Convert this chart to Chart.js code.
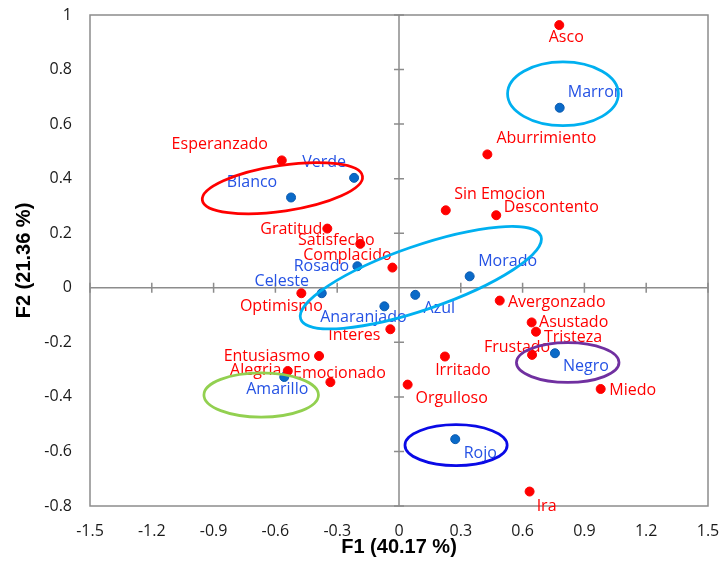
<!DOCTYPE html>
<html>
<head>
<meta charset="utf-8">
<script src="https://cdn.jsdelivr.net/npm/chart.js@4/dist/chart.umd.min.js"></script>
<style>
  html, body { margin: 0; padding: 0; background: #ffffff; }
  #wrap { width: 722px; height: 561px; }
</style>
</head>
<body>
<div id="wrap"><canvas id="c" width="722" height="561"></canvas></div>
<script>
// Emotions (red) and colours (blue) on the first two factor axes
const emotions = ['Asco','Aburrimiento','Sin Emocion','Descontento','Esperanzado','Gratitud','Satisfecho','Complacido','Optimismo','Interes','Entusiasmo','Alegria','Emocionado','Avergonzado','Asustado','Tristeza','Frustado','Irritado','Orgulloso','Miedo','Ira'];
const emotionF1 = [0.778, 0.429, 0.227, 0.472, -0.569, -0.348, -0.188, -0.032, -0.474, -0.042, -0.388, -0.540, -0.333, 0.489, 0.644, 0.665, 0.646, 0.223, 0.042, 0.979, 0.634];
const emotionF2 = [0.963, 0.489, 0.284, 0.266, 0.467, 0.217, 0.161, 0.074, -0.020, -0.152, -0.250, -0.305, -0.346, -0.047, -0.127, -0.161, -0.246, -0.252, -0.355, -0.371, -0.747];

const colours = ['Marron','Verde','Blanco','Rosado','Celeste','Anaranjado','Azul','Morado','Amarillo','Negro','Rojo'];
const colourF1 = [0.780, -0.218, -0.524, -0.202, -0.375, -0.071, 0.079, 0.343, -0.557, 0.757, 0.273];
const colourF2 = [0.660, 0.403, 0.331, 0.079, -0.020, -0.068, -0.026, 0.042, -0.327, -0.240, -0.555];

const xTicks = [-1.5, -1.2, -0.9, -0.6, -0.3, 0, 0.3, 0.6, 0.9, 1.2, 1.5];
const yTicks = [-0.8, -0.6, -0.4, -0.2, 0, 0.2, 0.4, 0.6, 0.8, 1];
const xTitle = 'F1 (40.17 %)';
const yTitle = 'F2 (21.36 %)';

// Label placement around each point (pixel offset of the text centre)
const emotionLabelOffset = [[7,11],[59,-17],[54,-17],[55,-9],[-62,-17],[-36,-1],[-24,-5],[-45,-14],[-20,12],[-36,5],[-52,-1],[-32,-2],[9,-10],[57,0],[42,-1],[37,4],[-15,-9],[18,12],[44,12],[32,0],[17,13]];
const colourLabelOffset = [[36,-17],[-30,-17],[-39,-16],[-36,-1],[-40,-13],[-21,10],[24,12],[38,-16],[-7,11],[31,12],[25,13]];

// Group outlines: centre (F1, F2), half-axes in F1 / F2 units, tilt in degrees
const groupCx = [-0.566, 0.106, 0.796, 0.819, 0.277, -0.669];
const groupCy = [0.365, 0.037, 0.711, -0.274, -0.577, -0.393];
const groupRx = [0.393, 0.617, 0.269, 0.249, 0.248, 0.278];
const groupRy = [0.084, 0.117, 0.117, 0.073, 0.075, 0.081];
const groupTilt = [-8.5, -19, 0, 0, 0, 0];
const groupColour = ['#FF0000', '#00B0F0', '#00B0F0', '#7030A0', '#0A0AE6', '#92D050'];

const RED = '#FF0000';
const BLUE_PT = '#0A6AC8';
const BLUE_TXT = '#2552E4';
const AXIS_GREY = '#8C8C8C';
const LABEL_FONT = '16px "Open Sans"';

const fmt = v => String(Number(Number(v).toFixed(2)));

const frame = {
  id: 'frame',
  beforeDatasetsDraw(chart) {
    const { ctx, chartArea: a, scales: { x, y } } = chart;
    ctx.save();
    ctx.strokeStyle = AXIS_GREY;
    ctx.lineWidth = 1.5;
    ctx.strokeRect(a.left, a.top, a.right - a.left, a.bottom - a.top);
    const x0 = x.getPixelForValue(0), y0 = y.getPixelForValue(0);
    ctx.beginPath();
    ctx.moveTo(a.left, y0); ctx.lineTo(a.right, y0);
    ctx.moveTo(x0, a.top); ctx.lineTo(x0, a.bottom);
    xTicks.forEach(v => { const p = x.getPixelForValue(v); ctx.moveTo(p, y0 - 5); ctx.lineTo(p, y0 + 5); });
    yTicks.forEach(v => { const p = y.getPixelForValue(v); ctx.moveTo(x0 - 5, p); ctx.lineTo(x0 + 5, p); });
    ctx.stroke();
    ctx.restore();
  }
};

const labelsAndGroups = {
  id: 'labelsAndGroups',
  afterDatasetsDraw(chart) {
    const { ctx, scales: { x, y } } = chart;
    ctx.save();
    ctx.font = LABEL_FONT;
    ctx.textAlign = 'center';
    ctx.textBaseline = 'alphabetic';
    const put = (names, fx, fy, offs, colour) => {
      ctx.fillStyle = colour;
      names.forEach((n, i) => {
        const px = x.getPixelForValue(fx[i]) + offs[i][0];
        const py = y.getPixelForValue(fy[i]) + offs[i][1] + 6;
        ctx.fillText(n, px, py);
      });
    };
    put(emotions, emotionF1, emotionF2, emotionLabelOffset, RED);
    put(colours, colourF1, colourF2, colourLabelOffset, BLUE_TXT);

    ctx.lineWidth = 2.75;
    groupCx.forEach((cx, i) => {
      const px = x.getPixelForValue(cx), py = y.getPixelForValue(groupCy[i]);
      const rx = Math.abs(x.getPixelForValue(cx + groupRx[i]) - px);
      const ry = Math.abs(y.getPixelForValue(groupCy[i] + groupRy[i]) - py);
      ctx.strokeStyle = groupColour[i];
      ctx.beginPath();
      ctx.ellipse(px, py, rx, ry, groupTilt[i] * Math.PI / 180, 0, Math.PI * 2);
      ctx.stroke();
    });
    ctx.restore();
  }
};

new Chart(document.getElementById('c'), {
  type: 'scatter',
  data: {
    datasets: [
      {
        label: 'Emociones',
        data: emotionF1.map((v, i) => ({ x: v, y: emotionF2[i] })),
        backgroundColor: RED, borderColor: RED,
        pointRadius: 4.5, pointBorderWidth: 1
      },
      {
        label: 'Colores',
        data: colourF1.map((v, i) => ({ x: v, y: colourF2[i] })),
        backgroundColor: BLUE_PT, borderColor: '#0A5AB0',
        pointRadius: 4.5, pointBorderWidth: 1
      }
    ]
  },
  options: {
    responsive: false,
    animation: false,
    events: [],
    layout: { padding: { top: 15, right: 14, left: 0, bottom: 0 } },
    plugins: { legend: { display: false }, tooltip: { enabled: false } },
    scales: {
      x: {
        type: 'linear', position: 'bottom', min: -1.5, max: 1.5,
        afterBuildTicks: s => { s.ticks = xTicks.map(v => ({ value: v })); },
        afterFit: s => { s.height = 55; s.paddingLeft = 0; s.paddingRight = 0; },
        grid: { display: false, drawTicks: false },
        border: { display: false },
        ticks: { padding: 16, color: '#1a1a1a', font: { family: 'Open Sans', size: 16 }, callback: fmt, maxRotation: 0, autoSkip: false },
        title: { display: true, text: xTitle, color: '#000', font: { family: 'Liberation Sans', size: 20, weight: 'bold' }, padding: { top: 0, bottom: 2 } }
      },
      y: {
        type: 'linear', min: -0.8, max: 1,
        afterBuildTicks: s => { s.ticks = yTicks.map(v => ({ value: v })); },
        afterFit: s => { s.width = 90; s.paddingTop = 0; s.paddingBottom = 0; },
        grid: { display: false, drawTicks: false },
        border: { display: false },
        ticks: { padding: 18, color: '#1a1a1a', font: { family: 'Open Sans', size: 16 }, callback: fmt, autoSkip: false },
        title: { display: true, text: yTitle, color: '#000', font: { family: 'Liberation Sans', size: 20, weight: 'bold' }, padding: { top: 12, bottom: 0 } }
      }
    }
  },
  plugins: [frame, labelsAndGroups]
});
</script>
</body>
</html>
